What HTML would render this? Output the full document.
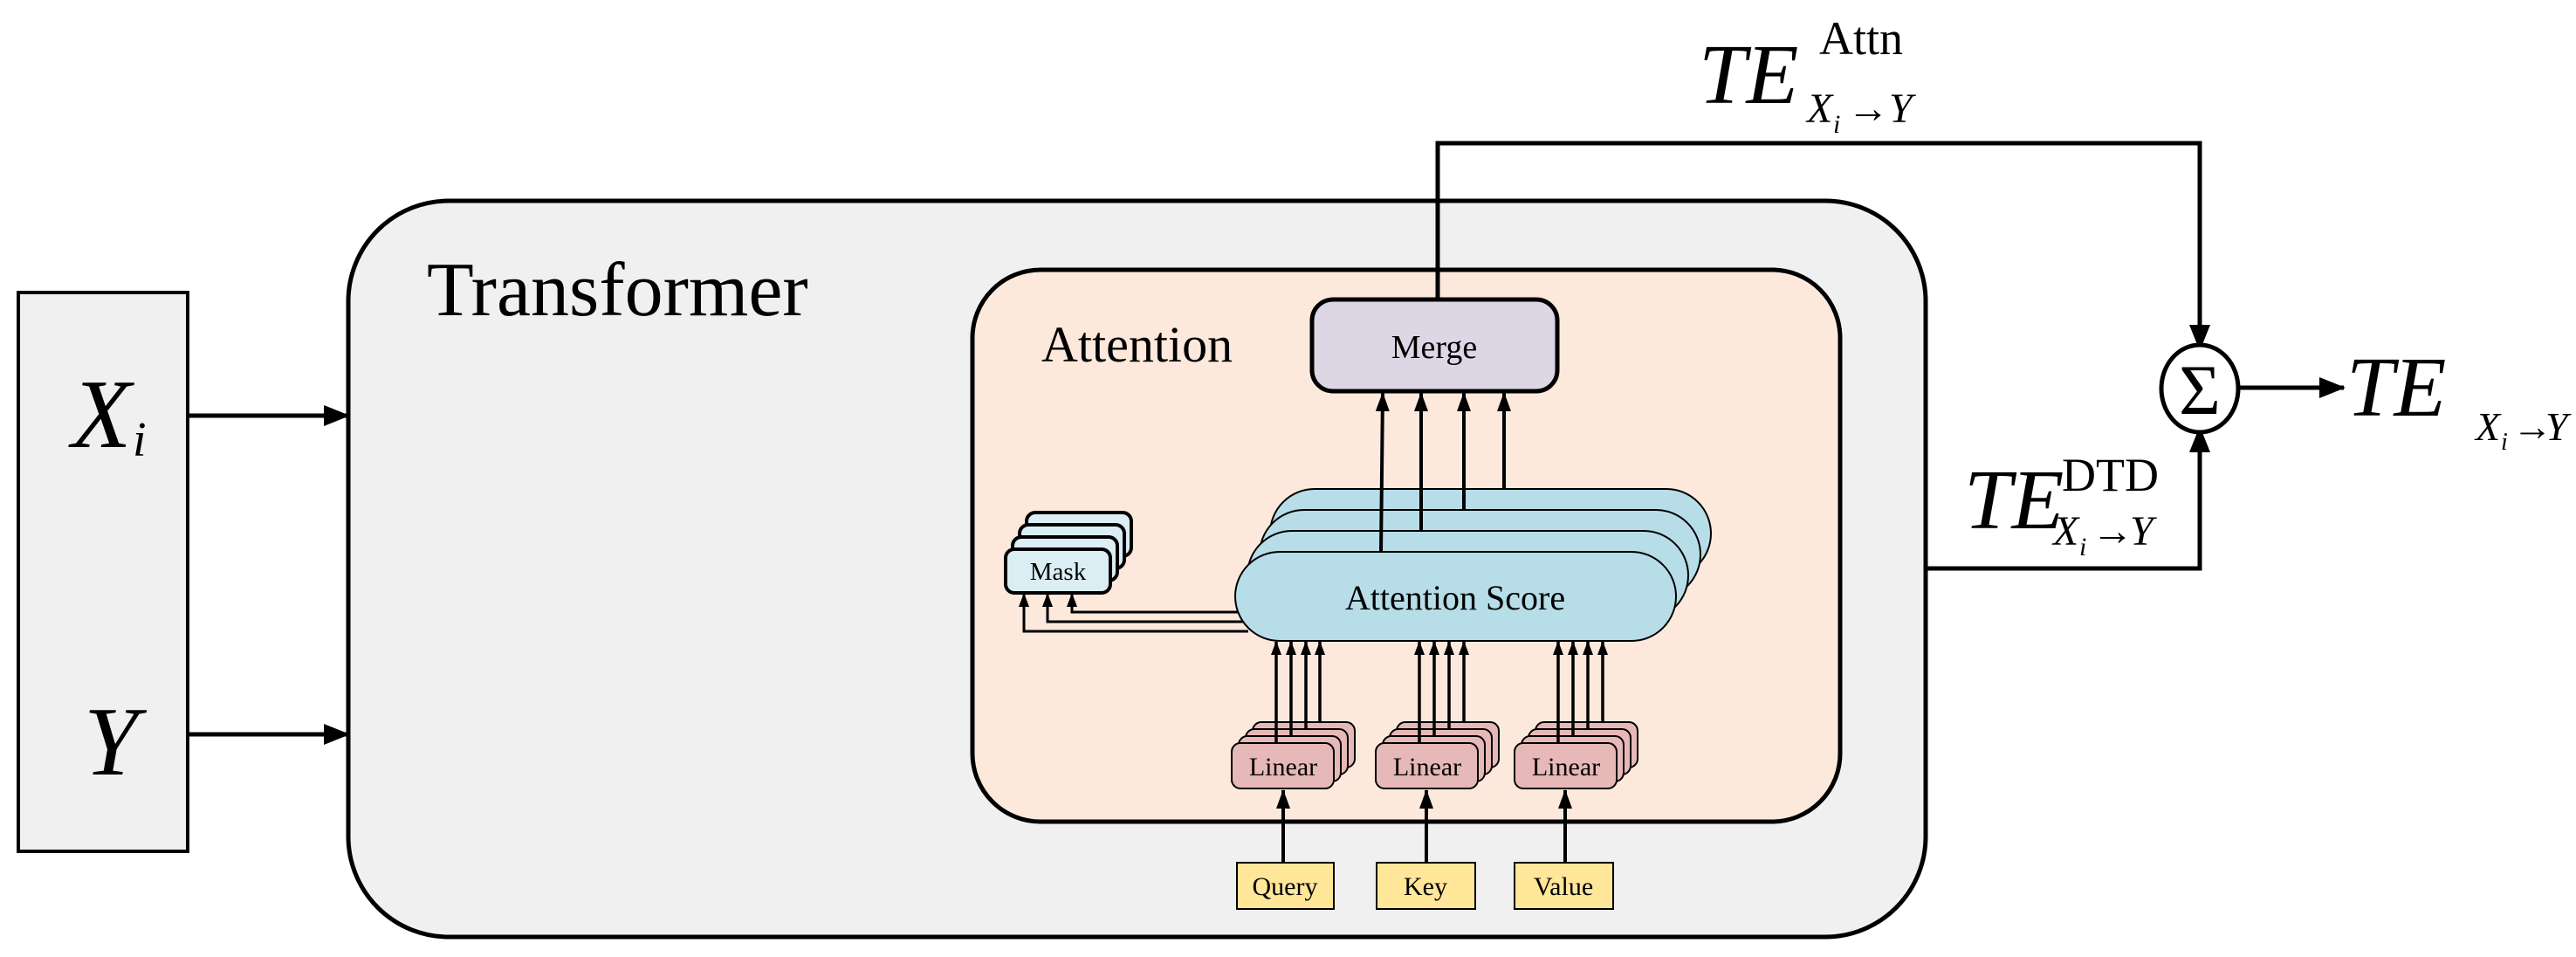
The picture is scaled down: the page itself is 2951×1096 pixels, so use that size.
<!DOCTYPE html>
<html><head><meta charset="utf-8"><style>
html,body{margin:0;padding:0;background:#fff;}
svg{display:block;}
text{font-family:"Liberation Serif",serif;fill:#000;}
</style></head><body>
<svg width="2951" height="1096" viewBox="0 0 2951 1096" xmlns="http://www.w3.org/2000/svg">
<defs>
<marker id="ab" markerUnits="userSpaceOnUse" markerWidth="30" markerHeight="24" refX="28" refY="12" orient="auto"><path d="M0,0 L30,12 L0,24 z" fill="#000"/></marker>
<marker id="as" markerUnits="userSpaceOnUse" markerWidth="22" markerHeight="16" refX="21" refY="8" orient="auto"><path d="M0,0 L22,8 L0,16 z" fill="#000"/></marker>
<marker id="at" markerUnits="userSpaceOnUse" markerWidth="16" markerHeight="12" refX="15" refY="6" orient="auto"><path d="M0,0 L16,6 L0,12 z" fill="#000"/></marker>
</defs>

<rect x="21" y="335" width="194" height="640" fill="#f0f0f0" stroke="#000" stroke-width="4"/>
<text x="82" y="512" font-size="112" font-style="italic">X</text>
<text x="152" y="522" font-size="56" font-style="italic">i</text>
<text x="96" y="887" font-size="112" font-style="italic">Y</text>
<line x1="215" y1="476" x2="399" y2="476" stroke="#000" stroke-width="5" marker-end="url(#ab)"/>
<line x1="215" y1="841" x2="399" y2="841" stroke="#000" stroke-width="5" marker-end="url(#ab)"/>

<rect x="399" y="230" width="1807" height="843" rx="115" fill="#f0f0f0" stroke="#000" stroke-width="5"/>
<text x="489" y="361" font-size="88">Transformer</text>

<rect x="1114" y="309" width="994" height="632" rx="78" fill="#fce9dc" stroke="#000" stroke-width="5"/>
<text x="1193" y="414" font-size="58">Attention</text>

<rect x="1503" y="343" width="281" height="105" rx="24" fill="#ddd7e5" stroke="#000" stroke-width="5"/>
<text x="1643" y="410" font-size="38" text-anchor="middle">Merge</text>

<polyline points="1647,343 1647,164 2520,164 2520,400" fill="none" stroke="#000" stroke-width="5" marker-end="url(#ab)"/>
<polyline points="2206,651 2520,651 2520,490" fill="none" stroke="#000" stroke-width="5" marker-end="url(#ab)"/>

<ellipse cx="2520" cy="445" rx="44" ry="50" fill="#fff" stroke="#000" stroke-width="5"/>
<text x="2520" y="474" font-size="82" text-anchor="middle">Σ</text>
<line x1="2564" y1="444" x2="2685" y2="444" stroke="#000" stroke-width="5" marker-end="url(#ab)"/>

<text x="1946" y="118" font-size="98" font-style="italic">TE</text>
<text x="2084" y="62" font-size="54">Attn</text>
<text x="2070" y="140" font-size="48" font-style="italic">X</text>
<text x="2100" y="152" font-size="30" font-style="italic">i</text>
<text x="2116" y="140" font-size="48">→</text>
<text x="2164" y="140" font-size="48" font-style="italic">Y</text>

<text x="2688" y="476" font-size="98" font-style="italic">TE</text>
<text x="2836" y="504" font-size="46" font-style="italic">X</text>
<text x="2865" y="515" font-size="28" font-style="italic">i</text>
<text x="2878" y="504" font-size="46">→</text>
<text x="2916" y="504" font-size="46" font-style="italic">Y</text>

<text x="2250" y="605" font-size="98" font-style="italic">TE</text>
<text x="2362" y="562" font-size="54">DTD</text>
<text x="2352" y="624" font-size="48" font-style="italic">X</text>
<text x="2382" y="636" font-size="30" font-style="italic">i</text>
<text x="2396" y="624" font-size="48">→</text>
<text x="2440" y="624" font-size="48" font-style="italic">Y</text>

<g fill="#daeef3" stroke="#000" stroke-width="4">
<rect x="1176" y="587" width="120" height="50" rx="10"/>
<rect x="1168" y="601" width="120" height="50" rx="10"/>
<rect x="1160" y="615" width="120" height="50" rx="10"/>
<rect x="1152" y="629" width="120" height="50" rx="10"/>
</g>
<text x="1212" y="664" font-size="29" text-anchor="middle">Mask</text>

<g fill="none" stroke="#000" stroke-width="3">
<polyline points="1430,723 1173,723 1173,680" marker-end="url(#at)"/>
<polyline points="1425,712 1200,712 1200,680" marker-end="url(#at)"/>
<polyline points="1420,701 1228,701 1228,680" marker-end="url(#at)"/>
</g>

<g fill="#b7dde8" stroke="#000" stroke-width="2">
<rect x="1455" y="560" width="505" height="102" rx="51"/>
<rect x="1443" y="584" width="505" height="102" rx="51"/>
<rect x="1429" y="608" width="505" height="102" rx="51"/>
<rect x="1415" y="632" width="505" height="102" rx="51"/>
</g>
<text x="1667" y="698" font-size="40" text-anchor="middle">Attention Score</text>

<g stroke="#000" stroke-width="4" marker-end="url(#as)">
<line x1="1582" y1="632" x2="1584" y2="450"/>
<line x1="1628" y1="608" x2="1628" y2="450"/>
<line x1="1677" y1="584" x2="1677" y2="450"/>
<line x1="1723" y1="560" x2="1723" y2="450"/>
</g>

<g fill="#e6b8b7" stroke="#000" stroke-width="2">
<rect x="1435" y="827" width="117" height="52" rx="10"/>
<rect x="1427" y="835" width="117" height="52" rx="10"/>
<rect x="1419" y="843" width="117" height="52" rx="10"/>
<rect x="1411" y="851" width="117" height="52" rx="10"/>
<rect x="1600" y="827" width="117" height="52" rx="10"/>
<rect x="1592" y="835" width="117" height="52" rx="10"/>
<rect x="1584" y="843" width="117" height="52" rx="10"/>
<rect x="1576" y="851" width="117" height="52" rx="10"/>
<rect x="1759" y="827" width="117" height="52" rx="10"/>
<rect x="1751" y="835" width="117" height="52" rx="10"/>
<rect x="1743" y="843" width="117" height="52" rx="10"/>
<rect x="1735" y="851" width="117" height="52" rx="10"/>
</g>
<g font-size="30" text-anchor="middle">
<text x="1470" y="888">Linear</text>
<text x="1635" y="888">Linear</text>
<text x="1794" y="888">Linear</text>
</g>

<g stroke="#000" stroke-width="3.5" marker-end="url(#at)">
<line x1="1462" y1="851" x2="1462" y2="735"/>
<line x1="1479" y1="843" x2="1479" y2="735"/>
<line x1="1496" y1="835" x2="1496" y2="735"/>
<line x1="1512" y1="827" x2="1512" y2="735"/>
<line x1="1626" y1="851" x2="1626" y2="735"/>
<line x1="1643" y1="843" x2="1643" y2="735"/>
<line x1="1660" y1="835" x2="1660" y2="735"/>
<line x1="1677" y1="827" x2="1677" y2="735"/>
<line x1="1785" y1="851" x2="1785" y2="735"/>
<line x1="1802" y1="843" x2="1802" y2="735"/>
<line x1="1819" y1="835" x2="1819" y2="735"/>
<line x1="1836" y1="827" x2="1836" y2="735"/>
</g>

<g fill="#ffe699" stroke="#000" stroke-width="2">
<rect x="1417" y="988" width="111" height="53"/>
<rect x="1577" y="988" width="113" height="53"/>
<rect x="1735" y="988" width="113" height="53"/>
</g>
<g font-size="30" text-anchor="middle">
<text x="1472" y="1025">Query</text>
<text x="1633" y="1025">Key</text>
<text x="1791" y="1025">Value</text>
</g>
<g stroke="#000" stroke-width="4" marker-end="url(#as)">
<line x1="1470" y1="988" x2="1470" y2="905"/>
<line x1="1634" y1="988" x2="1634" y2="905"/>
<line x1="1793" y1="988" x2="1793" y2="905"/>
</g>
</svg>
</body></html>
